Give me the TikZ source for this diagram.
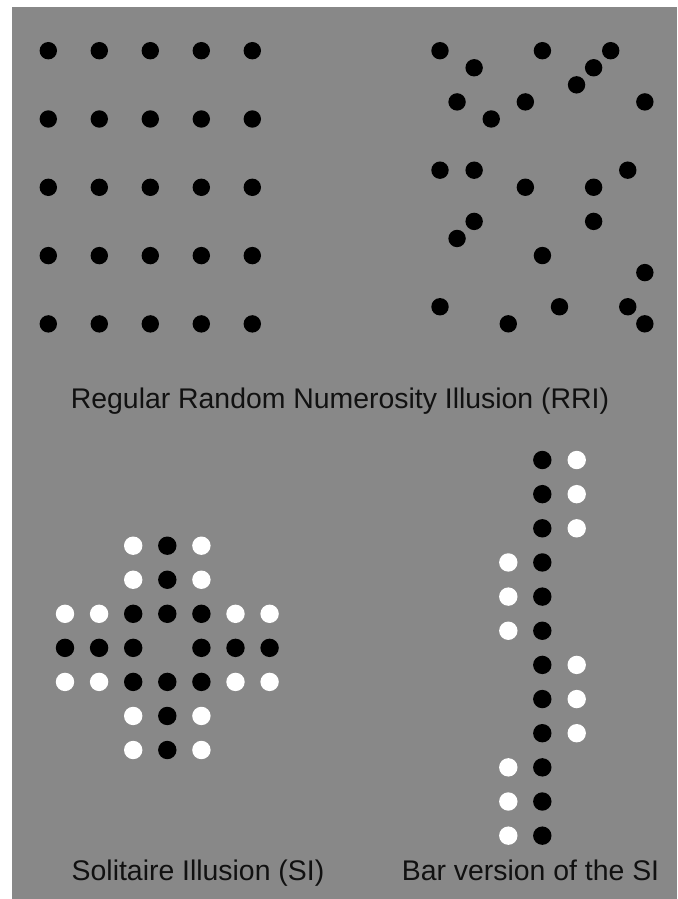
\documentclass[tikz,border=0pt]{standalone}
\usepackage{fontspec}
\setmainfont{Liberation Sans}
\definecolor{bg}{RGB}{136,136,136}
\definecolor{ink}{RGB}{17,17,17}
\begin{document}
\begin{tikzpicture}[x=1pt,y=-1pt,
  bdot/.style={circle,fill=black,inner sep=0pt,minimum size=17.4pt},
  sdot/.style={circle,fill=black,inner sep=0pt,minimum size=18.4pt},
  wdot/.style={circle,fill=white,inner sep=0pt,minimum size=18.4pt},
  caption/.style={inner sep=0pt,font=\fontsize{28.4}{30}\selectfont,text=ink}]
\useasboundingbox (0,0) rectangle (677,899);
\fill[bg] (12,7) rectangle (677,899);
% regular grid
\foreach \i in {0,...,4}{
  \foreach \j in {0,...,4}{
    \node[bdot] (reg\i\j) at ({48.3+51*\i},{50.7+68.3*\j}) {};
  }
}
% random arrangement
\foreach [count=\n] \i/\j in {0/0,2/1,6/0,10/0,9/1,8/2,1/3,5/3,12/3,3/4,
    0/7,2/7,11/7,5/8,9/8,2/10,9/10,1/11,6/12,12/13,0/15,7/15,11/15,4/16,12/16}{
  \node[bdot] (rnd\n) at ({440+17.07*\i},{50.7+17.07*\j}) {};
}
% solitaire illusion
\foreach [count=\n] \i/\j in {3/0,3/1,2/2,3/2,4/2,0/3,1/3,2/3,4/3,5/3,6/3,2/4,3/4,4/4,3/5,3/6}{
  \node[sdot] (sb\n) at ({65+34.1*\i},{545.7+34.05*\j}) {};
}
\foreach [count=\n] \i/\j in {2/0,4/0,2/1,4/1,0/2,1/2,5/2,6/2,0/4,1/4,5/4,6/4,2/5,4/5,2/6,4/6}{
  \node[wdot] (sw\n) at ({65+34.1*\i},{545.7+34.05*\j}) {};
}
% bar version
\foreach \k in {0,...,11}{
  \node[sdot] (bb\k) at (542.3,{460+34.15*\k}) {};
}
\foreach \k in {0,1,2,6,7,8}{
  \node[wdot] (br\k) at (576.7,{460+34.15*\k}) {};
}
\foreach \k in {3,4,5,9,10,11}{
  \node[wdot] (bl\k) at (508.3,{460+34.15*\k}) {};
}
% captions
\node[caption,anchor=base] (rri) at (340,408.3) {Regular Random Numerosity Illusion (RRI)};
\node[caption,anchor=base] (si) at (198,880.5) {Solitaire Illusion (SI)};
\node[caption,anchor=base] (bar) at (530.5,880.5) {Bar version of the SI};
\end{tikzpicture}
\end{document}
